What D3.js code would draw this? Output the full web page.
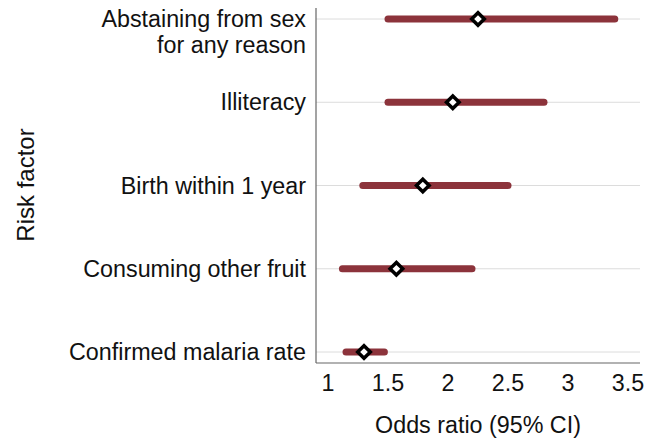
<!DOCTYPE html>
<html>
<head>
<meta charset="utf-8">
<script src="https://cdn.jsdelivr.net/npm/d3@7"></script>
<style>
  body { margin: 0; background: #fff; }
  text { font-family: "Liberation Sans", Arial, sans-serif; fill: #111; }
</style>
</head>
<body>
<div id="chart"></div>
<script>
// risk factors, top to bottom (label lines)
const factors = [
    ["Abstaining from sex", "for any reason"],
    ["Illiteracy"],
    ["Birth within 1 year"],
    ["Consuming other fruit"],
    ["Confirmed malaria rate"]
]
const oddsRatio = [2.25, 2.04, 1.79, 1.57, 1.30]
const ciLow = [1.50, 1.50, 1.29, 1.12, 1.15]
const ciHigh = [3.39, 2.80, 2.50, 2.20, 1.47]
const xTicks = [1, 1.5, 2, 2.5, 3, 3.5]

const width = 658, height = 442
const margin = { top: 8, right: 18, bottom: 79, left: 316 }
const fontSize = "23.3px"

const svg = d3.select("#chart").append("svg")
    .attr("width", width)
    .attr("height", height)

const data = factors.map((f, i) => ({ label: f, or: oddsRatio[i], lo: ciLow[i], hi: ciHigh[i], idx: i }))

const x = d3.scaleLinear()
    .domain([0.9, 3.6])
    .range([margin.left, width - margin.right])

const y = d3.scalePoint()
    .domain(d3.range(factors.length))
    .range([19, 352])

// gridlines
svg.append("g")
    .selectAll("line")
    .data(data)
    .join("line")
    .attr("x1", margin.left)
    .attr("x2", width - margin.right)
    .attr("y1", d => y(d.idx))
    .attr("y2", d => y(d.idx))
    .attr("stroke", "#dcdcdc")
    .attr("stroke-width", 1)

// axis lines
const bottom = height - margin.bottom
svg.append("line")
    .attr("x1", margin.left).attr("x2", margin.left)
    .attr("y1", margin.top).attr("y2", bottom)
    .attr("stroke", "#666").attr("stroke-width", 1.2)
svg.append("line")
    .attr("x1", margin.left).attr("x2", width - margin.right)
    .attr("y1", bottom).attr("y2", bottom)
    .attr("stroke", "#666").attr("stroke-width", 1.2)

// CI bars
svg.append("g")
    .selectAll("line")
    .data(data)
    .join("line")
    .attr("x1", d => x(d.lo))
    .attr("x2", d => x(d.hi))
    .attr("y1", d => y(d.idx))
    .attr("y2", d => y(d.idx))
    .attr("stroke", "#8c333b")
    .attr("stroke-width", 7)
    .attr("stroke-linecap", "round")

// point estimates (diamonds)
svg.append("g")
    .selectAll("path")
    .data(data)
    .join("path")
    .attr("d", d3.symbol().type(d3.symbolSquare).size(80))
    .attr("transform", d => `translate(${x(d.or)},${y(d.idx)}) rotate(45)`)
    .attr("fill", "#fff")
    .attr("stroke", "#000")
    .attr("stroke-width", 3.5)

// y labels
const labels = svg.append("g")
    .selectAll("text")
    .data(data)
    .join("text")
    .attr("x", 306)
    .attr("y", d => y(d.idx))
    .attr("text-anchor", "end")
    .style("font-size", fontSize)
labels.selectAll("tspan")
    .data(d => d.label)
    .join("tspan")
    .attr("x", 306)
    .attr("dy", (t, i) => i == 0 ? "0.35em" : "1.1em")
    .text(t => t)

// x tick labels
svg.append("g")
    .selectAll("text")
    .data(xTicks)
    .join("text")
    .attr("x", d => x(d))
    .attr("y", 383)
    .attr("dy", "0.35em")
    .attr("text-anchor", "middle")
    .style("font-size", fontSize)
    .text(d => d)

// axis titles
svg.append("text")
    .attr("x", 478)
    .attr("y", 425)
    .attr("dy", "0.35em")
    .attr("text-anchor", "middle")
    .style("font-size", fontSize)
    .text("Odds ratio (95% CI)")

svg.append("text")
    .attr("transform", "translate(26,185) rotate(-90)")
    .attr("dy", "0.35em")
    .attr("text-anchor", "middle")
    .style("font-size", "24px")
    .text("Risk factor")
</script>
</body>
</html>
